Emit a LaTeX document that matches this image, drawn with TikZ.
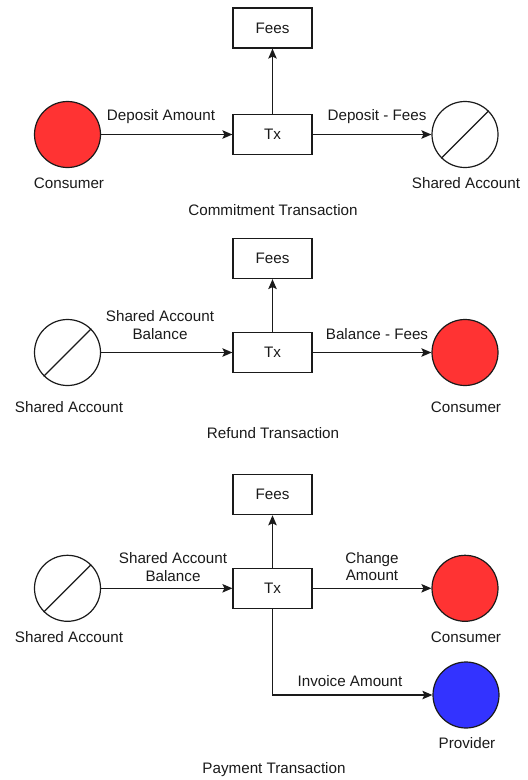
\documentclass[tikz,border=0pt]{standalone}
\usepackage{fontspec}
\setmainfont{Liberation Sans}
\usetikzlibrary{arrows.meta}
\definecolor{redfill}{HTML}{FF3333}
\definecolor{bluefill}{HTML}{3333FF}
\definecolor{inkline}{HTML}{1A1A1A}
\begin{document}
\begin{tikzpicture}[x=1pt,y=-1pt,
  every node/.style={font=\fontsize{15.2}{17.5}\selectfont, text=inkline},
  txbox/.style={draw=inkline, line width=1.2pt, minimum width=79pt, minimum height=40pt, inner sep=0pt, fill=white},
  party/.style={circle, draw=inkline, line width=1.2pt, minimum size=66pt, inner sep=0pt},
  flow/.style={draw=inkline, line width=1.2pt, -{Stealth[length=10pt,width=8.5pt,inset=2pt]}},
  lbl/.style={align=center, inner sep=0pt}]
\useasboundingbox (0,0) rectangle (528,780);

% ---- Commitment transaction ----
\node[txbox] (fees1) at (272.5,28) {Fees};
\node[txbox] (tx1) at (272.5,134.5) {Tx};
\node[party, fill=redfill] (cons1) at (67.5,134.5) {};
\node[party, fill=white] (sa1) at (465,134.5) {};
\draw[draw=inkline, line width=1.2pt] (sa1.-135) -- (sa1.45);
\draw[flow] (cons1) -- (tx1);
\draw[flow] (tx1) -- (sa1);
\draw[flow] (tx1) -- (fees1);
\node[lbl] (l1a) at (161,117) {Deposit Amount};
\node[lbl] (l1b) at (377,117) {Deposit - Fees};
\node[lbl] (n1a) at (69,183) {Consumer};
\node[lbl] (n1b) at (466,183) {Shared Account};
\node[lbl] (t1) at (273,210) {Commitment Transaction};

% ---- Refund transaction ----
\node[txbox] (fees2) at (272.5,258.5) {Fees};
\node[txbox] (tx2) at (272.5,352.5) {Tx};
\node[party, fill=white] (sa2) at (67.5,352.5) {};
\draw[draw=inkline, line width=1.2pt] (sa2.-135) -- (sa2.45);
\node[party, fill=redfill] (cons2) at (465,352.5) {};
\draw[flow] (sa2) -- (tx2);
\draw[flow] (tx2) -- (cons2);
\draw[flow] (tx2) -- (fees2);
\node[lbl] (l2a) at (160,325) {Shared Account\\Balance};
\node[lbl] (l2b) at (377,334) {Balance - Fees};
\node[lbl] (n2a) at (69,407) {Shared Account};
\node[lbl] (n2b) at (466,407) {Consumer};
\node[lbl] (t2) at (273,433.5) {Refund Transaction};

% ---- Payment transaction ----
\node[txbox] (fees3) at (272.5,494.7) {Fees};
\node[txbox] (tx3) at (272.5,588.3) {Tx};
\node[party, fill=white] (sa3) at (67.5,588.3) {};
\draw[draw=inkline, line width=1.2pt] (sa3.-135) -- (sa3.45);
\node[party, fill=redfill] (cons3) at (465,588.3) {};
\node[party, fill=bluefill] (prov3) at (466,695) {};
\draw[flow] (sa3) -- (tx3);
\draw[flow] (tx3) -- (cons3);
\draw[flow] (tx3) -- (fees3);
\draw[flow] (tx3.south) |- (prov3.west);
\node[lbl] (l3a) at (173,567) {Shared Account\\Balance};
\node[lbl] (l3b) at (372,566.5) {Change\\Amount};
\node[lbl] (l3c) at (350,681) {Invoice Amount};
\node[lbl] (n3a) at (69,637) {Shared Account};
\node[lbl] (n3b) at (466,637) {Consumer};
\node[lbl] (n3c) at (467,743.5) {Provider};
\node[lbl] (t3) at (274,770) {Payment Transaction};
\end{tikzpicture}
\end{document}
